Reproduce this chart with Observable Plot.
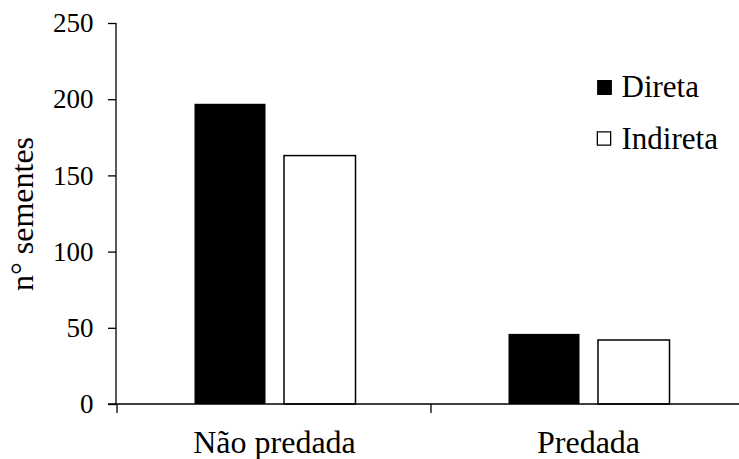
<!DOCTYPE html>
<html>
<head>
<meta charset="utf-8">
<script src="https://cdn.jsdelivr.net/npm/d3@7"></script>
<script src="https://cdn.jsdelivr.net/npm/@observablehq/plot@0.6"></script>
<style>
  html, body { margin: 0; padding: 0; background: #fff; }
  #chart svg { display: block; }
  #chart svg, #chart svg text { font-family: "Liberation Serif", "Times New Roman", Times, serif !important; }
</style>
</head>
<body>
<div id="chart"></div>
<script>
const categories = ["Não predada", "Predada"];
const seriesNames = ["Direta", "Indireta"];
const direta = [197, 46];
const indireta = [163, 42];
const yTicks = [0, 50, 100, 150, 200, 250];
const yLabel = "n° sementes";

const rowsDireta = categories.map((c, i) => ({cat: c, series: seriesNames[0], value: direta[i]}));
const rowsIndireta = categories.map((c, i) => ({cat: c, series: seriesNames[1], value: indireta[i]}));

const FONT = "Liberation Serif";

// axis lines and boundary ticks drawn from the library's scales
function axesLines(index, scales, values, dimensions) {
  const x = scales.x, y = scales.y;
  const ns = "http://www.w3.org/2000/svg";
  const g = document.createElementNS(ns, "g");
  g.setAttribute("stroke", "#000");
  g.setAttribute("stroke-width", "1.3");
  const add = (x1, y1, x2, y2) => {
    const l = document.createElementNS(ns, "line");
    l.setAttribute("x1", x1); l.setAttribute("y1", y1);
    l.setAttribute("x2", x2); l.setAttribute("y2", y2);
    g.appendChild(l);
  };
  const y0 = y(0), yTop = y(d3.max(yTicks));
  const left = dimensions.marginLeft;
  const right = dimensions.width - dimensions.marginRight;
  add(left, y0, left, yTop);           // y axis line
  add(left - 8, y0, right, y0);        // x axis line
  const bw = x(categories[1]) - x(categories[0]);
  categories.forEach(c => add(x(c), y0, x(c), y0 + 9));
  add(x(categories[categories.length - 1]) + bw, y0, x(categories[categories.length - 1]) + bw, y0 + 9);
  return g;
}

const plot = Plot.plot({
  width: 739,
  height: 459,
  marginLeft: 116,
  marginRight: -6,
  marginTop: 23,
  marginBottom: 55,
  style: {fontFamily: FONT, fontSize: "27px", color: "#000", background: "#fff"},
  x: {domain: categories, padding: 0},
  y: {domain: [0, 250]},
  marks: [
    Plot.barY(rowsDireta, {x: "cat", y: "value", fill: "#000", insetLeft: 77.5, insetRight: 165.5}),
    Plot.barY(rowsIndireta, {x: "cat", y: "value", fill: "#fff", stroke: "#000", strokeWidth: 1.5, insetLeft: 167, insetRight: 75.5}),
    axesLines,
    Plot.axisY(yTicks, {tickSize: 8, tickPadding: 15, label: null, fontSize: 27, fontFamily: FONT, stroke: "#000", strokeWidth: 1.3}),
    Plot.axisX({tickSize: 0, tickPadding: 26, label: null, fontSize: 32, fontFamily: FONT}),
    Plot.text([yLabel], {frameAnchor: "left", rotate: -90, dx: -84, textAnchor: "middle", lineAnchor: "bottom", fontSize: 32, fontFamily: FONT}),
    // legend
    Plot.dot([seriesNames[0]], {frameAnchor: "top-left", dx: 488, dy: 64, symbol: "square", r: 7.5, fill: "#000", stroke: "#000"}),
    Plot.dot([seriesNames[1]], {frameAnchor: "top-left", dx: 487.5, dy: 115, symbol: "square", r: 7.5, fill: "#fff", stroke: "#000", strokeWidth: 1.3}),
    Plot.text([seriesNames[0]], {text: d => d, frameAnchor: "top-left", dx: 505, dy: 73, textAnchor: "start", lineAnchor: "bottom", fontSize: 31, fontFamily: FONT}),
    Plot.text([seriesNames[1]], {text: d => d, frameAnchor: "top-left", dx: 505, dy: 125, textAnchor: "start", lineAnchor: "bottom", fontSize: 31, fontFamily: FONT})
  ]
});
document.getElementById("chart").appendChild(plot);
</script>
</body>
</html>
